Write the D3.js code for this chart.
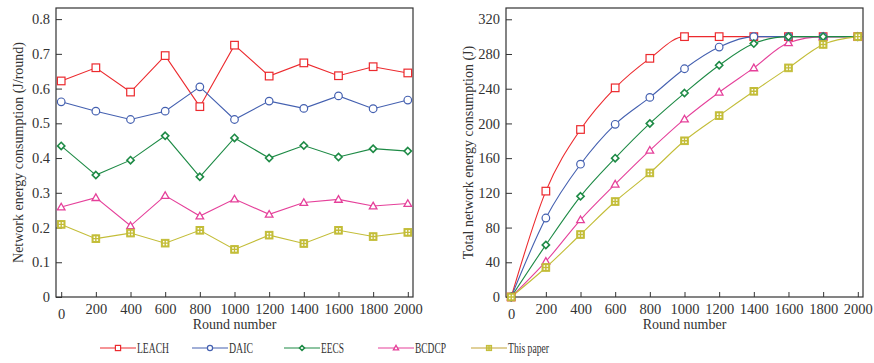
<!DOCTYPE html>
<html>
<head>
<meta charset="utf-8">
<script src="https://cdn.jsdelivr.net/npm/d3@7"></script>
<style>
  body { margin: 0; background: #fff; }
  svg text { font-family: "Liberation Serif", "Times New Roman", serif; fill: #333; }
</style>
</head>
<body>
<svg id="chart" width="874" height="363"></svg>
<script>
// rounds on the x axis
const rounds = [0, 200, 400, 600, 800, 1000, 1200, 1400, 1600, 1800, 2000];

// left: energy per round (J/round)
const leachRate = [0.622, 0.660, 0.590, 0.695, 0.548, 0.725, 0.636, 0.674, 0.637, 0.663, 0.645];
const daicRate = [0.562, 0.535, 0.511, 0.535, 0.605, 0.511, 0.564, 0.543, 0.579, 0.542, 0.567];
const eecsRate = [0.435, 0.351, 0.394, 0.464, 0.346, 0.458, 0.400, 0.436, 0.403, 0.427, 0.420];
const bcdcpRate = [0.259, 0.286, 0.205, 0.292, 0.233, 0.282, 0.238, 0.272, 0.281, 0.262, 0.269];
const paperRate = [0.209, 0.168, 0.184, 0.155, 0.192, 0.137, 0.178, 0.154, 0.192, 0.174, 0.186];

// right: total energy consumed (J)
const leachTotal = [0, 122, 193, 241, 275, 300, 300, 300, 300, 300, 300];
const daicTotal = [0, 91, 153, 199, 230, 263, 288, 300, 300, 300, 300];
const eecsTotal = [0, 60, 116, 160, 200, 235, 267, 292, 300, 300, 300];
const bcdcpTotal = [0, 41, 89, 130, 169, 205, 236, 264, 293, 300, 300];
const paperTotal = [0, 34, 72, 110, 143, 180, 209, 237, 264, 291, 300];

const leftTicks = [0, 0.1, 0.2, 0.3, 0.4, 0.5, 0.6, 0.7, 0.8];
const rightTicks = [0, 40, 80, 120, 160, 200, 240, 280, 320];

const seriesNames = ["LEACH", "DAIC", "EECS", "BCDCP", "This paper"];
const colors = {
  "LEACH": "#ec2a2e",
  "DAIC": "#4460b0",
  "EECS": "#1d8a45",
  "BCDCP": "#e5409a",
  "This paper": "#c3bd38"
};
const shapes = {
  "LEACH": "square",
  "DAIC": "circle",
  "EECS": "diamond",
  "BCDCP": "triangle",
  "This paper": "boxcross"
};

const svg = d3.select("#chart");

function drawMarker(g, name, x, y, s) {
  const c = colors[name];
  const kind = shapes[name];
  if (kind === "square") {
    g.append("rect").attr("x", x - s).attr("y", y - s).attr("width", 2 * s).attr("height", 2 * s)
      .attr("fill", "#fff").attr("stroke", c).attr("stroke-width", 1.2);
  } else if (kind === "circle") {
    g.append("circle").attr("cx", x).attr("cy", y).attr("r", s)
      .attr("fill", "#fff").attr("stroke", c).attr("stroke-width", 1.2);
  } else if (kind === "diamond") {
    const d = s * 0.95;
    g.append("path").attr("d", `M${x},${y - d}L${x + d},${y}L${x},${y + d}L${x - d},${y}Z`)
      .attr("fill", "#fff").attr("stroke", c).attr("stroke-width", 1.6);
  } else if (kind === "triangle") {
    g.append("path").attr("d", `M${x},${y - s}L${x + s},${y + s * 0.75}L${x - s},${y + s * 0.75}Z`)
      .attr("fill", "#fff").attr("stroke", c).attr("stroke-width", 1.3);
  } else {
    g.append("rect").attr("x", x - s).attr("y", y - s).attr("width", 2 * s).attr("height", 2 * s)
      .attr("fill", c).attr("stroke", c).attr("stroke-width", 1);
    g.append("rect").attr("x", x - s * 0.6).attr("y", y - s * 0.6).attr("width", s * 1.2).attr("height", s * 1.2)
      .attr("fill", "#fff");
    g.append("path").attr("d", `M${x},${y - s}V${y + s}M${x - s},${y}H${x + s}`)
      .attr("stroke", c).attr("stroke-width", 1.4);
  }
}

function panel(opts) {
  const { left, right, top, bottom, yMax, yTicks, yFormat, series, order, curve, title } = opts;
  const x = d3.scaleLinear().domain([-30, 2030]).range([left, right]);
  const y = d3.scaleLinear().domain([0, yMax]).range([bottom, top]);
  const g = svg.append("g");

  // frame
  g.append("rect").attr("x", left).attr("y", top).attr("width", right - left).attr("height", bottom - top)
    .attr("fill", "none").attr("stroke", "#333").attr("stroke-width", 1.2);

  const xAxis = g.append("g").attr("transform", `translate(0,${bottom})`)
    .call(d3.axisBottom(x).tickValues(rounds).tickSize(-5).tickPadding(7).tickFormat(d3.format("d")));
  const yAxis = g.append("g").attr("transform", `translate(${left},0)`)
    .call(d3.axisLeft(y).tickValues(yTicks).tickSize(-6).tickPadding(6).tickFormat(yFormat));
  [xAxis, yAxis].forEach(a => {
    a.select(".domain").remove();
    a.selectAll("line").attr("stroke", "#333");
    a.selectAll("text").attr("font-size", 14.5).attr("fill", "#333")
      .style("font-family", "'Liberation Serif', serif");
  });
  xAxis.selectAll("text").filter(d => d === 0).attr("dy", "1.05em");

  g.append("text").attr("x", (left + right) / 2).attr("y", bottom + 32)
    .attr("text-anchor", "middle").attr("font-size", 14).text("Round number");
  g.append("text").attr("transform", `translate(${left - 38},${(top + bottom) / 2}) rotate(-90)`)
    .attr("text-anchor", "middle").attr("dy", "0.35em").attr("font-size", 14).text(title);

  const line = d3.line().x((d, i) => x(rounds[i])).y(d => y(d)).curve(curve);
  order.forEach(name => {
    const vals = series[name];
    g.append("path").datum(vals).attr("d", line)
      .attr("fill", "none").attr("stroke", colors[name]).attr("stroke-width", 1.1);
  });
  order.forEach(name => {
    const mg = g.append("g");
    series[name].forEach((v, i) => drawMarker(mg, name, x(rounds[i]), y(v), 3.8));
  });
}

panel({
  left: 56, right: 413, top: 8, bottom: 297,
  yMax: 0.832, yTicks: leftTicks, yFormat: d => d === 0 ? "0" : d3.format(".1f")(d),
  series: { "LEACH": leachRate, "DAIC": daicRate, "EECS": eecsRate, "BCDCP": bcdcpRate, "This paper": paperRate },
  order: ["LEACH", "DAIC", "EECS", "BCDCP", "This paper"],
  curve: d3.curveLinear,
  title: "Network energy consumption (J/round)"
});

panel({
  left: 506, right: 863, top: 8, bottom: 297,
  yMax: 333, yTicks: rightTicks, yFormat: d3.format("d"),
  series: { "LEACH": leachTotal, "DAIC": daicTotal, "EECS": eecsTotal, "BCDCP": bcdcpTotal, "This paper": paperTotal },
  order: ["LEACH", "BCDCP", "DAIC", "EECS", "This paper"],
  curve: d3.curveMonotoneX,
  title: "Total network energy consumption (J)"
});

// legend (the original uses a condensed face, so squeeze the labels)
const legendX = [100, 192, 284, 378, 471];
const legendWidths = [32, 24, 23, 31, 41];
const legend = svg.append("g");
seriesNames.forEach((name, i) => {
  const x0 = legendX[i], ly = 348;
  legend.append("line").attr("x1", x0).attr("x2", x0 + 36).attr("y1", ly).attr("y2", ly)
    .attr("stroke", name === "This paper" ? "#c2a234" : colors[name]).attr("stroke-width", 1.1);
  drawMarker(legend, name, x0 + 18, ly, 2.6);
  legend.append("text").attr("x", x0 + 37).attr("y", ly).attr("dy", "0.35em")
    .attr("font-size", 14).attr("textLength", legendWidths[i]).attr("lengthAdjust", "spacingAndGlyphs")
    .text(name);
});
</script>
</body>
</html>
